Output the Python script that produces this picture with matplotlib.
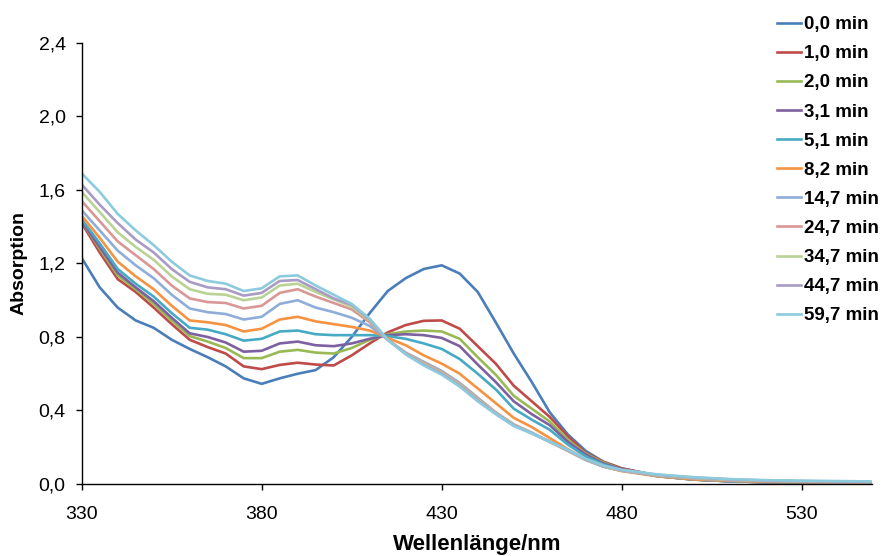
import matplotlib
matplotlib.use("Agg")
import matplotlib.pyplot as plt
from matplotlib.ticker import FuncFormatter

plt.rcParams['font.family'] = ['Liberation Sans', 'DejaVu Sans']

# wavelength grid (nm)
wl = [330, 335, 340, 345, 350, 355, 360, 365, 370, 375, 380, 385, 390, 395,
      400, 405, 410, 415, 420, 425, 430, 435, 440, 445, 450, 455, 460, 465,
      470, 475, 480, 490, 500, 510, 520, 530, 540, 549]

labels = ['0,0 min', '1,0 min', '2,0 min', '3,1 min', '5,1 min', '8,2 min',
          '14,7 min', '24,7 min', '34,7 min', '44,7 min', '59,7 min']

colors = ['#4A7EBB', '#BE4B48', '#98B954', '#7D60A0', '#46AAC5', '#F69240',
          '#8FADD9', '#D99795', '#B9D295', '#A99BC4', '#8CCBDD']

t00 = [1.23, 1.07, 0.96, 0.89, 0.85, 0.785, 0.735, 0.69, 0.64, 0.575, 0.545, 0.575, 0.60, 0.62,
       0.69, 0.80, 0.93, 1.05, 1.12, 1.17, 1.19, 1.145, 1.045, 0.88, 0.71, 0.555, 0.39, 0.27,
       0.18, 0.12, 0.085, 0.045, 0.025, 0.015, 0.010, 0.008, 0.006, 0.005]
t10 = [1.42, 1.26, 1.115, 1.045, 0.96, 0.87, 0.785, 0.745, 0.71, 0.64, 0.625, 0.648, 0.66, 0.65,
       0.645, 0.70, 0.765, 0.825, 0.865, 0.888, 0.89, 0.845, 0.75, 0.655, 0.535, 0.45, 0.365, 0.26,
       0.17, 0.12, 0.085, 0.045, 0.025, 0.015, 0.010, 0.008, 0.006, 0.005]
t20 = [1.43, 1.28, 1.135, 1.06, 0.98, 0.89, 0.805, 0.775, 0.74, 0.685, 0.685, 0.72, 0.73, 0.715,
       0.71, 0.74, 0.785, 0.815, 0.83, 0.835, 0.83, 0.79, 0.69, 0.595, 0.48, 0.41, 0.34, 0.24,
       0.165, 0.115, 0.08, 0.043, 0.024, 0.015, 0.010, 0.008, 0.006, 0.005]
t31 = [1.43, 1.29, 1.15, 1.07, 0.995, 0.905, 0.82, 0.80, 0.77, 0.72, 0.725, 0.765, 0.775, 0.755,
       0.75, 0.765, 0.79, 0.81, 0.815, 0.81, 0.795, 0.75, 0.65, 0.555, 0.45, 0.38, 0.32, 0.23,
       0.16, 0.11, 0.08, 0.043, 0.024, 0.015, 0.010, 0.008, 0.006, 0.005]
t51 = [1.44, 1.31, 1.17, 1.09, 1.02, 0.93, 0.85, 0.84, 0.815, 0.78, 0.79, 0.83, 0.835, 0.815,
       0.81, 0.81, 0.81, 0.805, 0.79, 0.765, 0.735, 0.68, 0.60, 0.515, 0.41, 0.35, 0.295, 0.215,
       0.15, 0.105, 0.075, 0.042, 0.024, 0.015, 0.011, 0.009, 0.007, 0.006]
t82 = [1.46, 1.34, 1.21, 1.13, 1.06, 0.97, 0.89, 0.88, 0.865, 0.83, 0.845, 0.895, 0.91, 0.885,
       0.87, 0.855, 0.835, 0.795, 0.755, 0.70, 0.655, 0.60, 0.52, 0.44, 0.36, 0.31, 0.25, 0.19,
       0.135, 0.095, 0.07, 0.042, 0.025, 0.017, 0.012, 0.010, 0.008, 0.007]
t147 = [1.49, 1.38, 1.27, 1.19, 1.12, 1.03, 0.955, 0.935, 0.925, 0.895, 0.91, 0.98, 1.00, 0.96,
        0.935, 0.905, 0.86, 0.785, 0.715, 0.665, 0.615, 0.55, 0.47, 0.39, 0.325, 0.28, 0.23, 0.18,
        0.13, 0.093, 0.072, 0.045, 0.03, 0.02, 0.015, 0.012, 0.010, 0.009]
t247 = [1.54, 1.43, 1.32, 1.245, 1.17, 1.08, 1.01, 0.99, 0.985, 0.955, 0.97, 1.04, 1.06, 1.02,
        0.985, 0.95, 0.88, 0.785, 0.712, 0.66, 0.61, 0.545, 0.465, 0.388, 0.322, 0.278, 0.23, 0.182,
        0.132, 0.095, 0.073, 0.047, 0.032, 0.022, 0.017, 0.014, 0.012, 0.010]
t347 = [1.59, 1.48, 1.37, 1.29, 1.22, 1.13, 1.06, 1.035, 1.03, 1.00, 1.015, 1.08, 1.09, 1.045,
        1.005, 0.965, 0.89, 0.785, 0.71, 0.655, 0.605, 0.54, 0.46, 0.385, 0.32, 0.277, 0.23, 0.183,
        0.133, 0.096, 0.074, 0.048, 0.033, 0.023, 0.018, 0.015, 0.013, 0.011]
t447 = [1.63, 1.52, 1.42, 1.33, 1.26, 1.17, 1.10, 1.07, 1.06, 1.025, 1.04, 1.105, 1.11, 1.06,
        1.01, 0.975, 0.895, 0.785, 0.708, 0.65, 0.60, 0.535, 0.455, 0.382, 0.318, 0.276, 0.23, 0.185,
        0.135, 0.098, 0.075, 0.05, 0.035, 0.025, 0.019, 0.016, 0.014, 0.012]
t597 = [1.69, 1.59, 1.47, 1.38, 1.30, 1.21, 1.135, 1.105, 1.09, 1.05, 1.065, 1.13, 1.135, 1.08,
        1.03, 0.98, 0.90, 0.785, 0.705, 0.645, 0.595, 0.53, 0.45, 0.38, 0.316, 0.275, 0.23, 0.187,
        0.137, 0.10, 0.077, 0.052, 0.037, 0.027, 0.021, 0.018, 0.016, 0.014]

series = [t00, t10, t20, t31, t51, t82, t147, t247, t347, t447, t597]

fig = plt.figure(figsize=(8.84, 5.56), dpi=100)
ax = fig.add_axes([0.0924, 0.1295, 0.894, 0.7932])

for y, lab, c in zip(series, labels, colors):
    ax.plot(wl, y, color=c, lw=1.9, label=lab)

ax.set_xlim(330, 549.5)
ax.set_ylim(0, 2.4)
ax.set_xticks([330, 380, 430, 480, 530])
ax.set_yticks([0, 0.4, 0.8, 1.2, 1.6, 2.0, 2.4])
ax.yaxis.set_major_formatter(FuncFormatter(lambda v, p: f"{v:.1f}".replace('.', ',')))

for s in ['top', 'right']:
    ax.spines[s].set_visible(False)
for s in ['left', 'bottom']:
    ax.spines[s].set_linewidth(1.0)
    ax.spines[s].set_color('black')

ax.tick_params(axis='both', direction='out', length=4.5, width=1.0, labelsize=14)
ax.tick_params(axis='x', pad=11)
ax.tick_params(axis='y', pad=7)
ax.set_xlabel('Wellenlänge/nm', fontsize=16, fontweight='bold', labelpad=8)
ax.set_ylabel('Absorption', fontsize=14, fontweight='bold', labelpad=8)

fig.legend(loc='upper left', bbox_to_anchor=(777 / 884, 1 - 16 / 556), frameon=False,
           prop={'weight': 'bold', 'size': 13.5}, handlelength=1.3, handletextpad=0.12,
           labelspacing=0.64, borderpad=0, borderaxespad=0)

fig.savefig('out.png', dpi=100)
